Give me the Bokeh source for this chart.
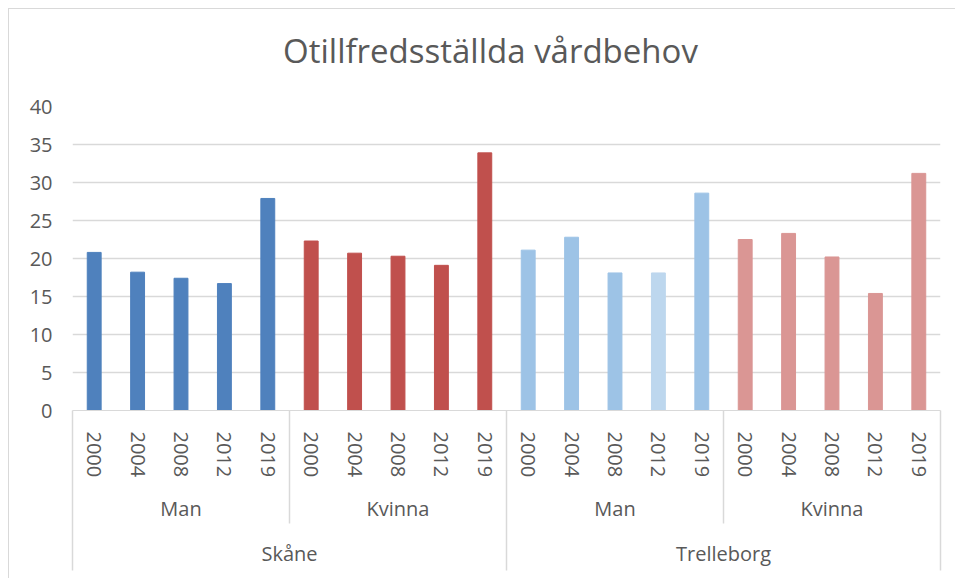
from bokeh.plotting import figure
from bokeh.models import FactorRange, FixedTicker, ColumnDataSource
from bokeh.core.properties import value
from bokeh.embed import file_html
from bokeh.resources import INLINE

# ---- data ----
title_text = "Otillfredsställda vårdbehov"
regions = ["Skåne", "Trelleborg"]
sexes = ["Man", "Kvinna"]
years = ["2000", "2004", "2008", "2012", "2019"]
skane_man = [20.8, 18.2, 17.4, 16.7, 27.9]
skane_kvinna = [22.3, 20.7, 20.3, 19.1, 33.9]
trelleborg_man = [21.1, 22.8, 18.1, 18.1, 28.6]
trelleborg_kvinna = [22.5, 23.3, 20.2, 15.4, 31.2]
y_ticks = [0, 5, 10, 15, 20, 25, 30, 35, 40]

# ---- styles ----
series_colors = {
    ("Skåne", "Man"): "#4F81BD",
    ("Skåne", "Kvinna"): "#C0504D",
    ("Trelleborg", "Man"): "#9DC3E6",
    ("Trelleborg", "Kvinna"): "#DA9694",
}
special_colors = {("Trelleborg", "Man", "2012"): "#BDD7EE"}
FONT = "Open Sans"
TXT = "#595959"
GRID = "#D9D9D9"

FRAME_W, FRAME_H = 868, 304

values = {
    ("Skåne", "Man"): skane_man,
    ("Skåne", "Kvinna"): skane_kvinna,
    ("Trelleborg", "Man"): trelleborg_man,
    ("Trelleborg", "Kvinna"): trelleborg_kvinna,
}

factors, tops, colors = [], [], []
for r in regions:
    for s in sexes:
        for y, v in zip(years, values[(r, s)]):
            factors.append((r, s, y))
            tops.append(v)
            colors.append(special_colors.get((r, s, y), series_colors[(r, s)]))

src = ColumnDataSource(dict(x=factors, top=tops, color=colors))

x_range = FactorRange(*factors, factor_padding=0, subgroup_padding=0,
                      group_padding=0, range_padding=0)
y_max = y_ticks[-1]

p = figure(x_range=x_range, y_range=(0, y_max), width=947, height=570,
           output_backend="svg", toolbar_location=None,
           min_border_left=63, min_border_right=16, min_border_top=97,
           min_border_bottom=169)
p.styles = {"margin-left": "8px", "margin-top": "8px",
            "border-top": "1px solid #D9D9D9", "border-left": "1px solid #D9D9D9"}

p.vbar(x="x", top="top", width=0.32, color="color", source=src)

# y axis
p.yaxis.ticker = FixedTicker(ticks=y_ticks)
p.yaxis.axis_line_color = None
p.yaxis.major_tick_line_color = None
p.yaxis.minor_tick_line_color = None
p.yaxis.major_label_standoff = 14
p.yaxis.major_label_text_font = FONT
p.yaxis.major_label_text_font_size = "20px"
p.yaxis.major_label_text_color = TXT

# x axis (nested categorical)
xa = p.xaxis[0]
xa.axis_line_color = GRID
xa.major_tick_line_color = None
xa.minor_tick_line_color = None
xa.major_label_orientation = "vertical"
xa.major_label_standoff = 15
xa.separator_line_color = None
for pre in ("major_label", "subgroup", "group"):
    setattr(xa, f"{pre}_text_font", FONT)
    setattr(xa, f"{pre}_text_font_size", "20px")
    setattr(xa, f"{pre}_text_color", TXT)
    if pre != "major_label":
        setattr(xa, f"{pre}_text_font_style", "normal")

p.xgrid.grid_line_color = None
p.ygrid.grid_line_color = GRID
p.ygrid.grid_line_width = 1.5
p.outline_line_color = None

n_years = len(years)
n_sub = len(sexes) * n_years
n_all = len(factors)
px_per_unit = FRAME_H / y_max
px_per_cat = FRAME_W / n_all

# separators in the axis area (synthetic coordinates of the factor range)
deep = -160 / px_per_unit
mid = -113 / px_per_unit
sx0, sy0, sy1 = [], [], []
for i in range(0, n_all + 1, n_years):
    sx0.append(i)
    sy0.append(0)
    sy1.append(deep if i % n_sub == 0 else mid)
p.segment(x0=sx0, y0=sy0, x1=sx0, y1=sy1, line_color=GRID, line_width=1.5,
          level="overlay")

# chart title, drawn in the top border (centre 56 px above the frame, 16 px left of centre)
p.text(x=[n_all / 2 - 16 / px_per_cat], y=[y_max + 56 / px_per_unit], text=[title_text],
       text_align="center", text_baseline="middle",
       text_font=value(FONT), text_font_size=value("33px"), text_color=TXT,
       level="overlay")

open("out.html", "w").write(file_html(p, INLINE))
